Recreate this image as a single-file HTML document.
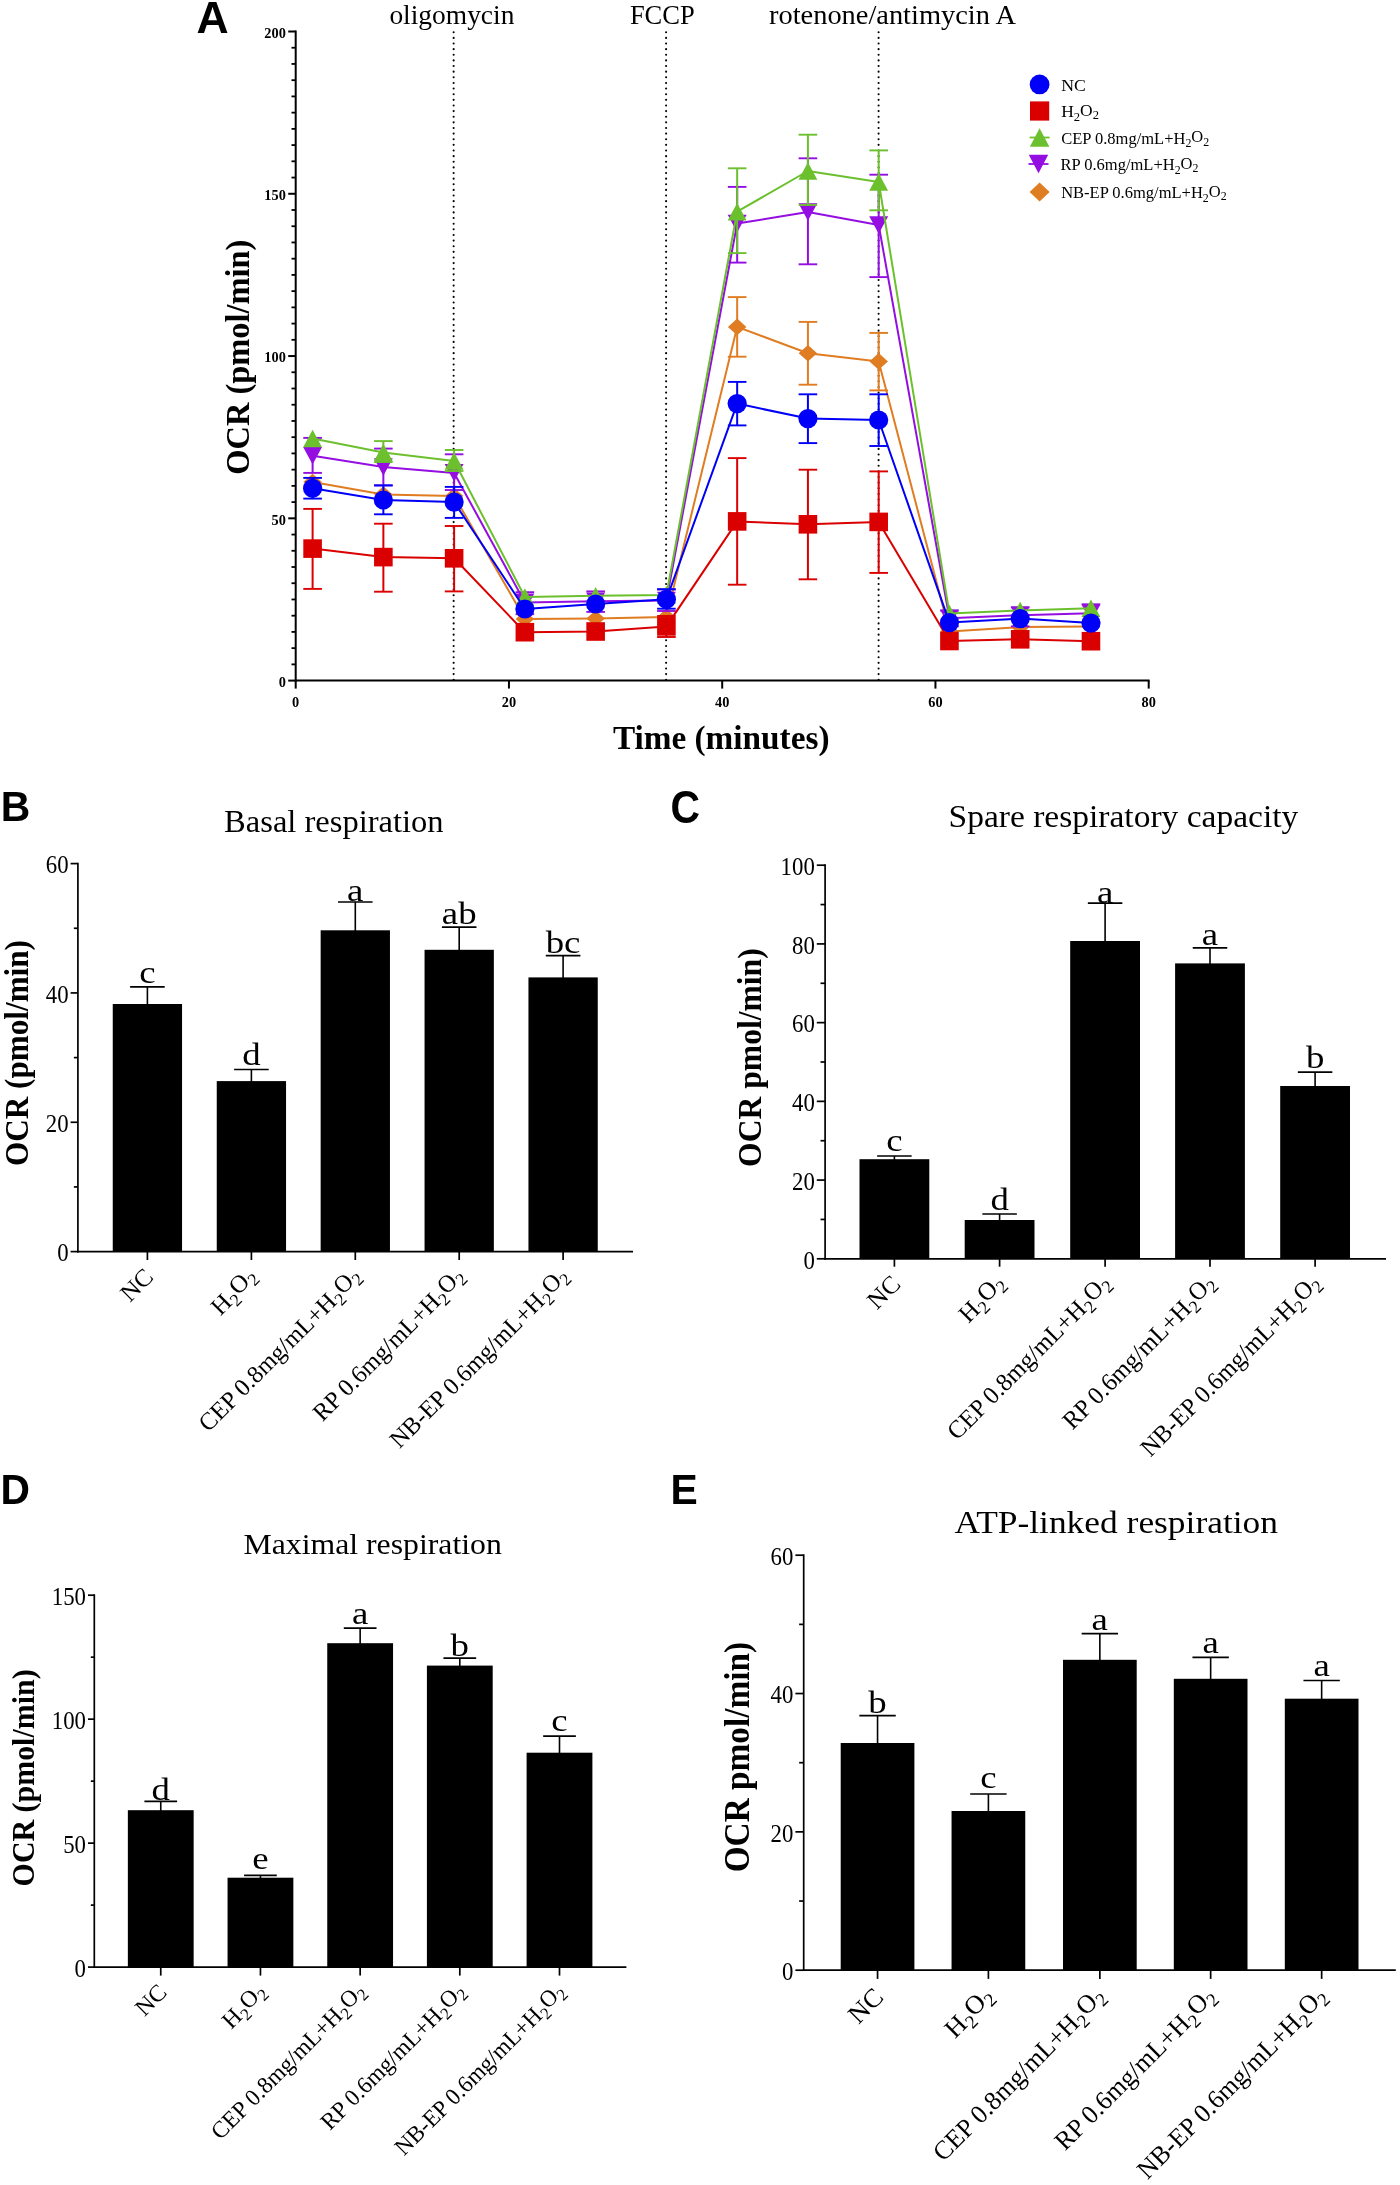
<!DOCTYPE html><html><head><meta charset="utf-8"><style>html,body{margin:0;padding:0;background:#fff;}svg{display:block;will-change:transform;}</style></head><body>
<svg width="1400" height="2185" viewBox="0 0 1400 2185">
<rect x="0" y="0" width="1400" height="2185" fill="#fff"/>
<text x="196.5" y="32.7" font-family="'Liberation Sans', sans-serif" font-size="44.5" font-weight="bold" fill="#000">A</text>
<line x1="295.70" y1="30.60" x2="295.70" y2="681.50" stroke="#000" stroke-width="2.0"/>
<line x1="294.80" y1="680.60" x2="1149.60" y2="680.60" stroke="#000" stroke-width="2.0"/>
<line x1="288.20" y1="680.60" x2="295.70" y2="680.60" stroke="#000" stroke-width="2.0"/>
<line x1="291.50" y1="664.37" x2="295.70" y2="664.37" stroke="#000" stroke-width="1.8"/>
<line x1="291.50" y1="648.14" x2="295.70" y2="648.14" stroke="#000" stroke-width="1.8"/>
<line x1="291.50" y1="631.92" x2="295.70" y2="631.92" stroke="#000" stroke-width="1.8"/>
<line x1="291.50" y1="615.69" x2="295.70" y2="615.69" stroke="#000" stroke-width="1.8"/>
<line x1="291.50" y1="599.46" x2="295.70" y2="599.46" stroke="#000" stroke-width="1.8"/>
<line x1="291.50" y1="583.24" x2="295.70" y2="583.24" stroke="#000" stroke-width="1.8"/>
<line x1="291.50" y1="567.01" x2="295.70" y2="567.01" stroke="#000" stroke-width="1.8"/>
<line x1="291.50" y1="550.78" x2="295.70" y2="550.78" stroke="#000" stroke-width="1.8"/>
<line x1="291.50" y1="534.55" x2="295.70" y2="534.55" stroke="#000" stroke-width="1.8"/>
<line x1="288.20" y1="518.33" x2="295.70" y2="518.33" stroke="#000" stroke-width="2.0"/>
<line x1="291.50" y1="502.10" x2="295.70" y2="502.10" stroke="#000" stroke-width="1.8"/>
<line x1="291.50" y1="485.87" x2="295.70" y2="485.87" stroke="#000" stroke-width="1.8"/>
<line x1="291.50" y1="469.64" x2="295.70" y2="469.64" stroke="#000" stroke-width="1.8"/>
<line x1="291.50" y1="453.41" x2="295.70" y2="453.41" stroke="#000" stroke-width="1.8"/>
<line x1="291.50" y1="437.19" x2="295.70" y2="437.19" stroke="#000" stroke-width="1.8"/>
<line x1="291.50" y1="420.96" x2="295.70" y2="420.96" stroke="#000" stroke-width="1.8"/>
<line x1="291.50" y1="404.73" x2="295.70" y2="404.73" stroke="#000" stroke-width="1.8"/>
<line x1="291.50" y1="388.50" x2="295.70" y2="388.50" stroke="#000" stroke-width="1.8"/>
<line x1="291.50" y1="372.28" x2="295.70" y2="372.28" stroke="#000" stroke-width="1.8"/>
<line x1="288.20" y1="356.05" x2="295.70" y2="356.05" stroke="#000" stroke-width="2.0"/>
<line x1="291.50" y1="339.82" x2="295.70" y2="339.82" stroke="#000" stroke-width="1.8"/>
<line x1="291.50" y1="323.59" x2="295.70" y2="323.59" stroke="#000" stroke-width="1.8"/>
<line x1="291.50" y1="307.37" x2="295.70" y2="307.37" stroke="#000" stroke-width="1.8"/>
<line x1="291.50" y1="291.14" x2="295.70" y2="291.14" stroke="#000" stroke-width="1.8"/>
<line x1="291.50" y1="274.91" x2="295.70" y2="274.91" stroke="#000" stroke-width="1.8"/>
<line x1="291.50" y1="258.69" x2="295.70" y2="258.69" stroke="#000" stroke-width="1.8"/>
<line x1="291.50" y1="242.46" x2="295.70" y2="242.46" stroke="#000" stroke-width="1.8"/>
<line x1="291.50" y1="226.23" x2="295.70" y2="226.23" stroke="#000" stroke-width="1.8"/>
<line x1="291.50" y1="210.00" x2="295.70" y2="210.00" stroke="#000" stroke-width="1.8"/>
<line x1="288.20" y1="193.77" x2="295.70" y2="193.77" stroke="#000" stroke-width="2.0"/>
<line x1="291.50" y1="177.55" x2="295.70" y2="177.55" stroke="#000" stroke-width="1.8"/>
<line x1="291.50" y1="161.32" x2="295.70" y2="161.32" stroke="#000" stroke-width="1.8"/>
<line x1="291.50" y1="145.09" x2="295.70" y2="145.09" stroke="#000" stroke-width="1.8"/>
<line x1="291.50" y1="128.87" x2="295.70" y2="128.87" stroke="#000" stroke-width="1.8"/>
<line x1="291.50" y1="112.64" x2="295.70" y2="112.64" stroke="#000" stroke-width="1.8"/>
<line x1="291.50" y1="96.41" x2="295.70" y2="96.41" stroke="#000" stroke-width="1.8"/>
<line x1="291.50" y1="80.18" x2="295.70" y2="80.18" stroke="#000" stroke-width="1.8"/>
<line x1="291.50" y1="63.95" x2="295.70" y2="63.95" stroke="#000" stroke-width="1.8"/>
<line x1="291.50" y1="47.73" x2="295.70" y2="47.73" stroke="#000" stroke-width="1.8"/>
<line x1="288.20" y1="31.50" x2="295.70" y2="31.50" stroke="#000" stroke-width="2.0"/>
<text x="285.8" y="687.0" font-family="'Liberation Serif', serif" font-size="14.3" text-anchor="end" font-weight="bold" fill="#000">0</text>
<text x="285.8" y="524.7" font-family="'Liberation Serif', serif" font-size="14.3" text-anchor="end" font-weight="bold" fill="#000">50</text>
<text x="285.8" y="362.4" font-family="'Liberation Serif', serif" font-size="14.3" text-anchor="end" font-weight="bold" fill="#000">100</text>
<text x="285.8" y="200.2" font-family="'Liberation Serif', serif" font-size="14.3" text-anchor="end" font-weight="bold" fill="#000">150</text>
<text x="285.8" y="37.9" font-family="'Liberation Serif', serif" font-size="14.3" text-anchor="end" font-weight="bold" fill="#000">200</text>
<line x1="295.70" y1="680.60" x2="295.70" y2="688.60" stroke="#000" stroke-width="2.0"/>
<text x="295.7" y="707.2" font-family="'Liberation Serif', serif" font-size="14.3" text-anchor="middle" font-weight="bold" fill="#000">0</text>
<line x1="508.95" y1="680.60" x2="508.95" y2="688.60" stroke="#000" stroke-width="2.0"/>
<text x="508.9" y="707.2" font-family="'Liberation Serif', serif" font-size="14.3" text-anchor="middle" font-weight="bold" fill="#000">20</text>
<line x1="722.20" y1="680.60" x2="722.20" y2="688.60" stroke="#000" stroke-width="2.0"/>
<text x="722.2" y="707.2" font-family="'Liberation Serif', serif" font-size="14.3" text-anchor="middle" font-weight="bold" fill="#000">40</text>
<line x1="935.45" y1="680.60" x2="935.45" y2="688.60" stroke="#000" stroke-width="2.0"/>
<text x="935.5" y="707.2" font-family="'Liberation Serif', serif" font-size="14.3" text-anchor="middle" font-weight="bold" fill="#000">60</text>
<line x1="1148.70" y1="680.60" x2="1148.70" y2="688.60" stroke="#000" stroke-width="2.0"/>
<text x="1148.7" y="707.2" font-family="'Liberation Serif', serif" font-size="14.3" text-anchor="middle" font-weight="bold" fill="#000">80</text>
<line x1="453.65" y1="32.26" x2="453.65" y2="680.60" stroke="#000" stroke-width="2.1" stroke-dasharray="0.01,5.62" stroke-linecap="round"/>
<line x1="666.10" y1="32.26" x2="666.10" y2="680.60" stroke="#000" stroke-width="2.1" stroke-dasharray="0.01,5.62" stroke-linecap="round"/>
<line x1="878.60" y1="32.26" x2="878.60" y2="680.60" stroke="#000" stroke-width="2.1" stroke-dasharray="0.01,5.62" stroke-linecap="round"/>
<text x="389.4" y="23.6" font-family="'Liberation Serif', serif" font-size="26.5" textLength="125" lengthAdjust="spacingAndGlyphs" fill="#000">oligomycin</text>
<text x="629.9" y="23.6" font-family="'Liberation Serif', serif" font-size="26.5" textLength="64.8" lengthAdjust="spacingAndGlyphs" fill="#000">FCCP</text>
<text x="769.0" y="23.6" font-family="'Liberation Serif', serif" font-size="26.5" textLength="247" lengthAdjust="spacingAndGlyphs" fill="#000">rotenone/antimycin A</text>
<text x="612.9" y="748.9" font-family="'Liberation Serif', serif" font-size="33" font-weight="bold" textLength="216.6" lengthAdjust="spacingAndGlyphs" fill="#000">Time (minutes)</text>
<text x="0.0" y="0.0" font-family="'Liberation Serif', serif" font-size="33" font-weight="bold" textLength="235" lengthAdjust="spacingAndGlyphs" transform="translate(248.6,474.7) rotate(-90)" fill="#000">OCR (pmol/min)</text>
<line x1="737.16" y1="297.10" x2="737.16" y2="356.70" stroke="#e07c22" stroke-width="2.0"/>
<line x1="727.86" y1="297.10" x2="746.46" y2="297.10" stroke="#e07c22" stroke-width="1.9"/>
<line x1="727.86" y1="356.70" x2="746.46" y2="356.70" stroke="#e07c22" stroke-width="1.9"/>
<line x1="807.92" y1="321.90" x2="807.92" y2="384.70" stroke="#e07c22" stroke-width="2.0"/>
<line x1="798.62" y1="321.90" x2="817.22" y2="321.90" stroke="#e07c22" stroke-width="1.9"/>
<line x1="798.62" y1="384.70" x2="817.22" y2="384.70" stroke="#e07c22" stroke-width="1.9"/>
<line x1="878.68" y1="332.90" x2="878.68" y2="390.40" stroke="#e07c22" stroke-width="2.0"/>
<line x1="869.38" y1="332.90" x2="887.98" y2="332.90" stroke="#e07c22" stroke-width="1.9"/>
<line x1="869.38" y1="390.40" x2="887.98" y2="390.40" stroke="#e07c22" stroke-width="1.9"/>
<polyline points="312.60,482.00 383.36,494.50 454.12,496.00 524.88,618.90 595.64,618.50 666.40,616.90 737.16,326.90 807.92,353.30 878.68,361.40 949.44,631.40 1020.20,627.10 1090.96,626.40" fill="none" stroke="#e07c22" stroke-width="2.0" stroke-linejoin="round"/>
<polygon points="312.60,473.70 321.85,482.00 312.60,490.30 303.35,482.00" fill="#e07c22"/>
<polygon points="383.36,486.20 392.61,494.50 383.36,502.80 374.11,494.50" fill="#e07c22"/>
<polygon points="454.12,487.70 463.37,496.00 454.12,504.30 444.87,496.00" fill="#e07c22"/>
<polygon points="524.88,610.60 534.13,618.90 524.88,627.20 515.63,618.90" fill="#e07c22"/>
<polygon points="595.64,610.20 604.89,618.50 595.64,626.80 586.39,618.50" fill="#e07c22"/>
<polygon points="666.40,608.60 675.65,616.90 666.40,625.20 657.15,616.90" fill="#e07c22"/>
<polygon points="737.16,318.60 746.41,326.90 737.16,335.20 727.91,326.90" fill="#e07c22"/>
<polygon points="807.92,345.00 817.17,353.30 807.92,361.60 798.67,353.30" fill="#e07c22"/>
<polygon points="878.68,353.10 887.93,361.40 878.68,369.70 869.43,361.40" fill="#e07c22"/>
<polygon points="949.44,623.10 958.69,631.40 949.44,639.70 940.19,631.40" fill="#e07c22"/>
<polygon points="1020.20,618.80 1029.45,627.10 1020.20,635.40 1010.95,627.10" fill="#e07c22"/>
<polygon points="1090.96,618.10 1100.21,626.40 1090.96,634.70 1081.71,626.40" fill="#e07c22"/>
<line x1="312.60" y1="437.90" x2="312.60" y2="472.90" stroke="#940ee2" stroke-width="2.0"/>
<line x1="303.30" y1="437.90" x2="321.90" y2="437.90" stroke="#940ee2" stroke-width="1.9"/>
<line x1="303.30" y1="472.90" x2="321.90" y2="472.90" stroke="#940ee2" stroke-width="1.9"/>
<line x1="383.36" y1="448.60" x2="383.36" y2="485.40" stroke="#940ee2" stroke-width="2.0"/>
<line x1="374.06" y1="448.60" x2="392.66" y2="448.60" stroke="#940ee2" stroke-width="1.9"/>
<line x1="374.06" y1="485.40" x2="392.66" y2="485.40" stroke="#940ee2" stroke-width="1.9"/>
<line x1="454.12" y1="454.30" x2="454.12" y2="490.00" stroke="#940ee2" stroke-width="2.0"/>
<line x1="444.82" y1="454.30" x2="463.42" y2="454.30" stroke="#940ee2" stroke-width="1.9"/>
<line x1="444.82" y1="490.00" x2="463.42" y2="490.00" stroke="#940ee2" stroke-width="1.9"/>
<line x1="737.16" y1="186.90" x2="737.16" y2="262.60" stroke="#940ee2" stroke-width="2.0"/>
<line x1="727.86" y1="186.90" x2="746.46" y2="186.90" stroke="#940ee2" stroke-width="1.9"/>
<line x1="727.86" y1="262.60" x2="746.46" y2="262.60" stroke="#940ee2" stroke-width="1.9"/>
<line x1="807.92" y1="158.30" x2="807.92" y2="264.30" stroke="#940ee2" stroke-width="2.0"/>
<line x1="798.62" y1="158.30" x2="817.22" y2="158.30" stroke="#940ee2" stroke-width="1.9"/>
<line x1="798.62" y1="264.30" x2="817.22" y2="264.30" stroke="#940ee2" stroke-width="1.9"/>
<line x1="878.68" y1="174.70" x2="878.68" y2="277.10" stroke="#940ee2" stroke-width="2.0"/>
<line x1="869.38" y1="174.70" x2="887.98" y2="174.70" stroke="#940ee2" stroke-width="1.9"/>
<line x1="869.38" y1="277.10" x2="887.98" y2="277.10" stroke="#940ee2" stroke-width="1.9"/>
<line x1="524.88" y1="592.20" x2="524.88" y2="614.20" stroke="#940ee2" stroke-width="2.0"/>
<line x1="515.58" y1="592.20" x2="534.18" y2="592.20" stroke="#940ee2" stroke-width="1.9"/>
<line x1="515.58" y1="614.20" x2="534.18" y2="614.20" stroke="#940ee2" stroke-width="1.9"/>
<line x1="595.64" y1="591.40" x2="595.64" y2="611.90" stroke="#940ee2" stroke-width="2.0"/>
<line x1="586.34" y1="591.40" x2="604.94" y2="591.40" stroke="#940ee2" stroke-width="1.9"/>
<line x1="586.34" y1="611.90" x2="604.94" y2="611.90" stroke="#940ee2" stroke-width="1.9"/>
<line x1="666.40" y1="589.50" x2="666.40" y2="611.00" stroke="#940ee2" stroke-width="2.0"/>
<line x1="657.10" y1="589.50" x2="675.70" y2="589.50" stroke="#940ee2" stroke-width="1.9"/>
<line x1="657.10" y1="611.00" x2="675.70" y2="611.00" stroke="#940ee2" stroke-width="1.9"/>
<line x1="949.44" y1="610.70" x2="949.44" y2="626.30" stroke="#940ee2" stroke-width="2.0"/>
<line x1="940.14" y1="610.70" x2="958.74" y2="610.70" stroke="#940ee2" stroke-width="1.9"/>
<line x1="940.14" y1="626.30" x2="958.74" y2="626.30" stroke="#940ee2" stroke-width="1.9"/>
<line x1="1020.20" y1="607.40" x2="1020.20" y2="626.40" stroke="#940ee2" stroke-width="2.0"/>
<line x1="1010.90" y1="607.40" x2="1029.50" y2="607.40" stroke="#940ee2" stroke-width="1.9"/>
<line x1="1010.90" y1="626.40" x2="1029.50" y2="626.40" stroke="#940ee2" stroke-width="1.9"/>
<line x1="1090.96" y1="604.30" x2="1090.96" y2="622.00" stroke="#940ee2" stroke-width="2.0"/>
<line x1="1081.66" y1="604.30" x2="1100.26" y2="604.30" stroke="#940ee2" stroke-width="1.9"/>
<line x1="1081.66" y1="622.00" x2="1100.26" y2="622.00" stroke="#940ee2" stroke-width="1.9"/>
<polyline points="312.60,455.70 383.36,467.00 454.12,472.90 524.88,602.40 595.64,601.20 666.40,600.50 737.16,223.60 807.92,212.00 878.68,225.00 949.44,618.30 1020.20,615.20 1090.96,613.30" fill="none" stroke="#940ee2" stroke-width="2.0" stroke-linejoin="round"/>
<polygon points="312.60,464.50 322.05,446.90 303.15,446.90" fill="#940ee2"/>
<polygon points="383.36,475.80 392.81,458.20 373.91,458.20" fill="#940ee2"/>
<polygon points="454.12,481.70 463.57,464.10 444.67,464.10" fill="#940ee2"/>
<polygon points="524.88,611.20 534.33,593.60 515.43,593.60" fill="#940ee2"/>
<polygon points="595.64,610.00 605.09,592.40 586.19,592.40" fill="#940ee2"/>
<polygon points="666.40,609.30 675.85,591.70 656.95,591.70" fill="#940ee2"/>
<polygon points="737.16,232.40 746.61,214.80 727.71,214.80" fill="#940ee2"/>
<polygon points="807.92,220.80 817.37,203.20 798.47,203.20" fill="#940ee2"/>
<polygon points="878.68,233.80 888.13,216.20 869.23,216.20" fill="#940ee2"/>
<polygon points="949.44,627.10 958.89,609.50 939.99,609.50" fill="#940ee2"/>
<polygon points="1020.20,624.00 1029.65,606.40 1010.75,606.40" fill="#940ee2"/>
<polygon points="1090.96,622.10 1100.41,604.50 1081.51,604.50" fill="#940ee2"/>
<line x1="383.36" y1="441.10" x2="383.36" y2="462.00" stroke="#6cc02e" stroke-width="2.0"/>
<line x1="374.06" y1="441.10" x2="392.66" y2="441.10" stroke="#6cc02e" stroke-width="1.9"/>
<line x1="374.06" y1="462.00" x2="392.66" y2="462.00" stroke="#6cc02e" stroke-width="1.9"/>
<line x1="454.12" y1="450.00" x2="454.12" y2="471.00" stroke="#6cc02e" stroke-width="2.0"/>
<line x1="444.82" y1="450.00" x2="463.42" y2="450.00" stroke="#6cc02e" stroke-width="1.9"/>
<line x1="444.82" y1="471.00" x2="463.42" y2="471.00" stroke="#6cc02e" stroke-width="1.9"/>
<line x1="737.16" y1="168.30" x2="737.16" y2="253.10" stroke="#6cc02e" stroke-width="2.0"/>
<line x1="727.86" y1="168.30" x2="746.46" y2="168.30" stroke="#6cc02e" stroke-width="1.9"/>
<line x1="727.86" y1="253.10" x2="746.46" y2="253.10" stroke="#6cc02e" stroke-width="1.9"/>
<line x1="807.92" y1="134.70" x2="807.92" y2="205.00" stroke="#6cc02e" stroke-width="2.0"/>
<line x1="798.62" y1="134.70" x2="817.22" y2="134.70" stroke="#6cc02e" stroke-width="1.9"/>
<line x1="798.62" y1="205.00" x2="817.22" y2="205.00" stroke="#6cc02e" stroke-width="1.9"/>
<line x1="878.68" y1="150.40" x2="878.68" y2="210.30" stroke="#6cc02e" stroke-width="2.0"/>
<line x1="869.38" y1="150.40" x2="887.98" y2="150.40" stroke="#6cc02e" stroke-width="1.9"/>
<line x1="869.38" y1="210.30" x2="887.98" y2="210.30" stroke="#6cc02e" stroke-width="1.9"/>
<polyline points="312.60,438.50 383.36,452.50 454.12,461.00 524.88,597.00 595.64,595.80 666.40,594.90 737.16,211.70 807.92,171.00 878.68,182.00 949.44,613.50 1020.20,610.50 1090.96,608.20" fill="none" stroke="#6cc02e" stroke-width="2.0" stroke-linejoin="round"/>
<polygon points="312.60,429.70 322.05,447.30 303.15,447.30" fill="#6cc02e"/>
<polygon points="383.36,443.70 392.81,461.30 373.91,461.30" fill="#6cc02e"/>
<polygon points="454.12,452.20 463.57,469.80 444.67,469.80" fill="#6cc02e"/>
<polygon points="524.88,588.20 534.33,605.80 515.43,605.80" fill="#6cc02e"/>
<polygon points="595.64,587.00 605.09,604.60 586.19,604.60" fill="#6cc02e"/>
<polygon points="666.40,586.10 675.85,603.70 656.95,603.70" fill="#6cc02e"/>
<polygon points="737.16,202.90 746.61,220.50 727.71,220.50" fill="#6cc02e"/>
<polygon points="807.92,162.20 817.37,179.80 798.47,179.80" fill="#6cc02e"/>
<polygon points="878.68,173.20 888.13,190.80 869.23,190.80" fill="#6cc02e"/>
<polygon points="949.44,604.70 958.89,622.30 939.99,622.30" fill="#6cc02e"/>
<polygon points="1020.20,601.70 1029.65,619.30 1010.75,619.30" fill="#6cc02e"/>
<polygon points="1090.96,599.40 1100.41,617.00 1081.51,617.00" fill="#6cc02e"/>
<line x1="312.60" y1="508.90" x2="312.60" y2="588.90" stroke="#da0000" stroke-width="2.0"/>
<line x1="303.30" y1="508.90" x2="321.90" y2="508.90" stroke="#da0000" stroke-width="1.9"/>
<line x1="303.30" y1="588.90" x2="321.90" y2="588.90" stroke="#da0000" stroke-width="1.9"/>
<line x1="383.36" y1="523.70" x2="383.36" y2="591.70" stroke="#da0000" stroke-width="2.0"/>
<line x1="374.06" y1="523.70" x2="392.66" y2="523.70" stroke="#da0000" stroke-width="1.9"/>
<line x1="374.06" y1="591.70" x2="392.66" y2="591.70" stroke="#da0000" stroke-width="1.9"/>
<line x1="454.12" y1="526.00" x2="454.12" y2="591.40" stroke="#da0000" stroke-width="2.0"/>
<line x1="444.82" y1="526.00" x2="463.42" y2="526.00" stroke="#da0000" stroke-width="1.9"/>
<line x1="444.82" y1="591.40" x2="463.42" y2="591.40" stroke="#da0000" stroke-width="1.9"/>
<line x1="737.16" y1="458.10" x2="737.16" y2="584.70" stroke="#da0000" stroke-width="2.0"/>
<line x1="727.86" y1="458.10" x2="746.46" y2="458.10" stroke="#da0000" stroke-width="1.9"/>
<line x1="727.86" y1="584.70" x2="746.46" y2="584.70" stroke="#da0000" stroke-width="1.9"/>
<line x1="807.92" y1="469.70" x2="807.92" y2="579.30" stroke="#da0000" stroke-width="2.0"/>
<line x1="798.62" y1="469.70" x2="817.22" y2="469.70" stroke="#da0000" stroke-width="1.9"/>
<line x1="798.62" y1="579.30" x2="817.22" y2="579.30" stroke="#da0000" stroke-width="1.9"/>
<line x1="878.68" y1="471.40" x2="878.68" y2="572.90" stroke="#da0000" stroke-width="2.0"/>
<line x1="869.38" y1="471.40" x2="887.98" y2="471.40" stroke="#da0000" stroke-width="1.9"/>
<line x1="869.38" y1="572.90" x2="887.98" y2="572.90" stroke="#da0000" stroke-width="1.9"/>
<line x1="666.40" y1="616.00" x2="666.40" y2="637.00" stroke="#da0000" stroke-width="2.0"/>
<line x1="657.10" y1="616.00" x2="675.70" y2="616.00" stroke="#da0000" stroke-width="1.9"/>
<line x1="657.10" y1="637.00" x2="675.70" y2="637.00" stroke="#da0000" stroke-width="1.9"/>
<polyline points="312.60,548.60 383.36,557.10 454.12,558.30 524.88,632.20 595.64,631.50 666.40,626.40 737.16,521.40 807.92,524.30 878.68,521.90 949.44,641.00 1020.20,639.30 1090.96,641.20" fill="none" stroke="#da0000" stroke-width="2.0" stroke-linejoin="round"/>
<rect x="303.30" y="539.30" width="18.60" height="18.60" fill="#da0000"/>
<rect x="374.06" y="547.80" width="18.60" height="18.60" fill="#da0000"/>
<rect x="444.82" y="549.00" width="18.60" height="18.60" fill="#da0000"/>
<rect x="515.58" y="622.90" width="18.60" height="18.60" fill="#da0000"/>
<rect x="586.34" y="622.20" width="18.60" height="18.60" fill="#da0000"/>
<rect x="657.10" y="617.10" width="18.60" height="18.60" fill="#da0000"/>
<rect x="727.86" y="512.10" width="18.60" height="18.60" fill="#da0000"/>
<rect x="798.62" y="515.00" width="18.60" height="18.60" fill="#da0000"/>
<rect x="869.38" y="512.60" width="18.60" height="18.60" fill="#da0000"/>
<rect x="940.14" y="631.70" width="18.60" height="18.60" fill="#da0000"/>
<rect x="1010.90" y="630.00" width="18.60" height="18.60" fill="#da0000"/>
<rect x="1081.66" y="631.90" width="18.60" height="18.60" fill="#da0000"/>
<line x1="312.60" y1="477.90" x2="312.60" y2="498.60" stroke="#0000f8" stroke-width="2.0"/>
<line x1="303.30" y1="477.90" x2="321.90" y2="477.90" stroke="#0000f8" stroke-width="1.9"/>
<line x1="303.30" y1="498.60" x2="321.90" y2="498.60" stroke="#0000f8" stroke-width="1.9"/>
<line x1="383.36" y1="485.40" x2="383.36" y2="514.30" stroke="#0000f8" stroke-width="2.0"/>
<line x1="374.06" y1="485.40" x2="392.66" y2="485.40" stroke="#0000f8" stroke-width="1.9"/>
<line x1="374.06" y1="514.30" x2="392.66" y2="514.30" stroke="#0000f8" stroke-width="1.9"/>
<line x1="454.12" y1="486.90" x2="454.12" y2="517.90" stroke="#0000f8" stroke-width="2.0"/>
<line x1="444.82" y1="486.90" x2="463.42" y2="486.90" stroke="#0000f8" stroke-width="1.9"/>
<line x1="444.82" y1="517.90" x2="463.42" y2="517.90" stroke="#0000f8" stroke-width="1.9"/>
<line x1="737.16" y1="381.90" x2="737.16" y2="425.40" stroke="#0000f8" stroke-width="2.0"/>
<line x1="727.86" y1="381.90" x2="746.46" y2="381.90" stroke="#0000f8" stroke-width="1.9"/>
<line x1="727.86" y1="425.40" x2="746.46" y2="425.40" stroke="#0000f8" stroke-width="1.9"/>
<line x1="807.92" y1="394.30" x2="807.92" y2="443.10" stroke="#0000f8" stroke-width="2.0"/>
<line x1="798.62" y1="394.30" x2="817.22" y2="394.30" stroke="#0000f8" stroke-width="1.9"/>
<line x1="798.62" y1="443.10" x2="817.22" y2="443.10" stroke="#0000f8" stroke-width="1.9"/>
<line x1="878.68" y1="394.30" x2="878.68" y2="446.00" stroke="#0000f8" stroke-width="2.0"/>
<line x1="869.38" y1="394.30" x2="887.98" y2="394.30" stroke="#0000f8" stroke-width="1.9"/>
<line x1="869.38" y1="446.00" x2="887.98" y2="446.00" stroke="#0000f8" stroke-width="1.9"/>
<line x1="666.40" y1="589.20" x2="666.40" y2="608.70" stroke="#0000f8" stroke-width="2.0"/>
<line x1="657.10" y1="589.20" x2="675.70" y2="589.20" stroke="#0000f8" stroke-width="1.9"/>
<line x1="657.10" y1="608.70" x2="675.70" y2="608.70" stroke="#0000f8" stroke-width="1.9"/>
<polyline points="312.60,488.30 383.36,500.00 454.12,502.10 524.88,609.00 595.64,604.00 666.40,599.30 737.16,403.60 807.92,418.60 878.68,420.00 949.44,622.60 1020.20,618.60 1090.96,623.10" fill="none" stroke="#0000f8" stroke-width="2.0" stroke-linejoin="round"/>
<circle cx="312.60" cy="488.30" r="9.60" fill="#0000f8"/>
<circle cx="383.36" cy="500.00" r="9.60" fill="#0000f8"/>
<circle cx="454.12" cy="502.10" r="9.60" fill="#0000f8"/>
<circle cx="524.88" cy="609.00" r="9.60" fill="#0000f8"/>
<circle cx="595.64" cy="604.00" r="9.60" fill="#0000f8"/>
<circle cx="666.40" cy="599.30" r="9.60" fill="#0000f8"/>
<circle cx="737.16" cy="403.60" r="9.60" fill="#0000f8"/>
<circle cx="807.92" cy="418.60" r="9.60" fill="#0000f8"/>
<circle cx="878.68" cy="420.00" r="9.60" fill="#0000f8"/>
<circle cx="949.44" cy="622.60" r="9.60" fill="#0000f8"/>
<circle cx="1020.20" cy="618.60" r="9.60" fill="#0000f8"/>
<circle cx="1090.96" cy="623.10" r="9.60" fill="#0000f8"/>
<circle cx="1039.60" cy="84.40" r="9.90" fill="#0000f8"/>
<text x="1061.2" y="90.6" font-family="'Liberation Serif', serif" font-size="16.5" textLength="24.6" lengthAdjust="spacingAndGlyphs" fill="#000">NC</text>
<rect x="1030.00" y="101.40" width="19.20" height="19.20" fill="#da0000"/>
<text x="1061.2" y="117.2" font-family="'Liberation Serif', serif" font-size="16.5" textLength="37.8" lengthAdjust="spacingAndGlyphs" fill="#000">H<tspan font-size="0.72em" dy="0.28em">2</tspan><tspan dy="-0.28em">O</tspan><tspan font-size="0.72em" dy="0.28em">2</tspan></text>
<polygon points="1039.60,128.20 1049.35,146.80 1029.85,146.80" fill="#6cc02e"/>
<line x1="1029.60" y1="137.50" x2="1049.60" y2="137.50" stroke="#6cc02e" stroke-width="1.8"/>
<text x="1061.2" y="143.7" font-family="'Liberation Serif', serif" font-size="16.5" fill="#000">CEP 0.8mg/mL+H<tspan font-size="0.72em" dy="0.28em">2</tspan><tspan dy="-0.28em">O</tspan><tspan font-size="0.72em" dy="0.28em">2</tspan></text>
<polygon points="1038.50,173.30 1048.25,154.70 1028.75,154.70" fill="#940ee2"/>
<line x1="1028.50" y1="164.00" x2="1048.50" y2="164.00" stroke="#940ee2" stroke-width="1.8"/>
<text x="1060.5" y="170.2" font-family="'Liberation Serif', serif" font-size="16.5" fill="#000">RP 0.6mg/mL+H<tspan font-size="0.72em" dy="0.28em">2</tspan><tspan dy="-0.28em">O</tspan><tspan font-size="0.72em" dy="0.28em">2</tspan></text>
<polygon points="1039.60,182.60 1049.60,192.00 1039.60,201.40 1029.60,192.00" fill="#e07c22"/>
<text x="1061.2" y="198.2" font-family="'Liberation Serif', serif" font-size="16.5" fill="#000">NB-EP 0.6mg/mL+H<tspan font-size="0.72em" dy="0.28em">2</tspan><tspan dy="-0.28em">O</tspan><tspan font-size="0.72em" dy="0.28em">2</tspan></text>
<text x="0.0" y="0.0" font-family="'Liberation Sans', sans-serif" font-size="43" font-weight="bold" transform="translate(0.7,821.2) scale(0.95,1.01)" fill="#000">B</text>
<text x="224.1" y="831.8" font-family="'Liberation Serif', serif" font-size="30.5" textLength="219.5" lengthAdjust="spacingAndGlyphs" fill="#000">Basal respiration</text>
<text x="0.0" y="0.0" font-family="'Liberation Serif', serif" font-size="33" font-weight="bold" textLength="226" lengthAdjust="spacingAndGlyphs" transform="translate(27.5,1166) rotate(-90)" fill="#000">OCR (pmol/min)</text>
<rect x="112.75" y="1004.00" width="69.30" height="247.60" fill="#000"/>
<line x1="147.40" y1="986.80" x2="147.40" y2="1005.00" stroke="#000" stroke-width="1.6"/>
<line x1="130.10" y1="986.80" x2="164.70" y2="986.80" stroke="#000" stroke-width="1.7"/>
<text x="147.4" y="982.5" font-family="'Liberation Serif', serif" font-size="32" text-anchor="middle" textLength="16.339199999999998" lengthAdjust="spacingAndGlyphs" fill="#000">c</text>
<line x1="147.40" y1="1251.60" x2="147.40" y2="1260.00" stroke="#000" stroke-width="1.7"/>
<text x="0.0" y="0.0" font-family="'Liberation Serif', serif" font-size="24.5" text-anchor="end" textLength="35.184" lengthAdjust="spacingAndGlyphs" transform="translate(154.8,1278.2) rotate(-45)" fill="#000">NC</text>
<rect x="216.75" y="1081.10" width="69.30" height="170.50" fill="#000"/>
<line x1="251.40" y1="1069.50" x2="251.40" y2="1082.10" stroke="#000" stroke-width="1.6"/>
<line x1="234.10" y1="1069.50" x2="268.70" y2="1069.50" stroke="#000" stroke-width="1.7"/>
<text x="251.4" y="1064.5" font-family="'Liberation Serif', serif" font-size="32" text-anchor="middle" textLength="18.4" lengthAdjust="spacingAndGlyphs" fill="#000">d</text>
<line x1="251.40" y1="1251.60" x2="251.40" y2="1260.00" stroke="#000" stroke-width="1.7"/>
<text x="0.0" y="0.0" font-family="'Liberation Serif', serif" font-size="24.5" text-anchor="end" textLength="54.242" lengthAdjust="spacingAndGlyphs" transform="translate(258.8,1278.2) rotate(-45)" fill="#000">H<tspan font-size="0.72em" dy="0.28em">2</tspan><tspan dy="-0.28em">O</tspan><tspan font-size="0.72em" dy="0.28em">2</tspan></text>
<rect x="320.65" y="930.30" width="69.30" height="321.30" fill="#000"/>
<line x1="355.30" y1="902.00" x2="355.30" y2="931.30" stroke="#000" stroke-width="1.6"/>
<line x1="338.00" y1="902.00" x2="372.60" y2="902.00" stroke="#000" stroke-width="1.7"/>
<text x="355.3" y="900.8" font-family="'Liberation Serif', serif" font-size="32" text-anchor="middle" textLength="16.339199999999998" lengthAdjust="spacingAndGlyphs" fill="#000">a</text>
<line x1="355.30" y1="1251.60" x2="355.30" y2="1260.00" stroke="#000" stroke-width="1.7"/>
<text x="0.0" y="0.0" font-family="'Liberation Serif', serif" font-size="24.5" text-anchor="end" textLength="218.434" lengthAdjust="spacingAndGlyphs" transform="translate(362.7,1278.2) rotate(-45)" fill="#000">CEP 0.8mg/mL+H<tspan font-size="0.72em" dy="0.28em">2</tspan><tspan dy="-0.28em">O</tspan><tspan font-size="0.72em" dy="0.28em">2</tspan></text>
<rect x="424.55" y="949.80" width="69.30" height="301.80" fill="#000"/>
<line x1="459.20" y1="927.10" x2="459.20" y2="950.80" stroke="#000" stroke-width="1.6"/>
<line x1="441.90" y1="927.10" x2="476.50" y2="927.10" stroke="#000" stroke-width="1.7"/>
<text x="459.2" y="924.0" font-family="'Liberation Serif', serif" font-size="32" text-anchor="middle" textLength="34.7392" lengthAdjust="spacingAndGlyphs" fill="#000">ab</text>
<line x1="459.20" y1="1251.60" x2="459.20" y2="1260.00" stroke="#000" stroke-width="1.7"/>
<text x="0.0" y="0.0" font-family="'Liberation Serif', serif" font-size="24.5" text-anchor="end" textLength="203.774" lengthAdjust="spacingAndGlyphs" transform="translate(466.6,1278.2) rotate(-45)" fill="#000">RP 0.6mg/mL+H<tspan font-size="0.72em" dy="0.28em">2</tspan><tspan dy="-0.28em">O</tspan><tspan font-size="0.72em" dy="0.28em">2</tspan></text>
<rect x="528.45" y="977.40" width="69.30" height="274.20" fill="#000"/>
<line x1="563.10" y1="955.70" x2="563.10" y2="978.40" stroke="#000" stroke-width="1.6"/>
<line x1="545.80" y1="955.70" x2="580.40" y2="955.70" stroke="#000" stroke-width="1.7"/>
<text x="563.1" y="952.9" font-family="'Liberation Serif', serif" font-size="32" text-anchor="middle" textLength="34.7392" lengthAdjust="spacingAndGlyphs" fill="#000">bc</text>
<line x1="563.10" y1="1251.60" x2="563.10" y2="1260.00" stroke="#000" stroke-width="1.7"/>
<text x="0.0" y="0.0" font-family="'Liberation Serif', serif" font-size="24.5" text-anchor="end" textLength="241.89" lengthAdjust="spacingAndGlyphs" transform="translate(570.5,1278.2) rotate(-45)" fill="#000">NB-EP 0.6mg/mL+H<tspan font-size="0.72em" dy="0.28em">2</tspan><tspan dy="-0.28em">O</tspan><tspan font-size="0.72em" dy="0.28em">2</tspan></text>
<line x1="77.90" y1="862.75" x2="77.90" y2="1252.45" stroke="#000" stroke-width="1.7"/>
<line x1="77.05" y1="1251.60" x2="633.00" y2="1251.60" stroke="#000" stroke-width="1.7"/>
<line x1="70.60" y1="1251.60" x2="77.90" y2="1251.60" stroke="#000" stroke-width="1.7"/>
<text x="68.6" y="1261.4" font-family="'Liberation Serif', serif" font-size="25.6" text-anchor="end" textLength="11.4" lengthAdjust="spacingAndGlyphs" fill="#000">0</text>
<line x1="73.89" y1="1186.93" x2="77.90" y2="1186.93" stroke="#000" stroke-width="1.7"/>
<line x1="70.60" y1="1122.27" x2="77.90" y2="1122.27" stroke="#000" stroke-width="1.7"/>
<text x="68.6" y="1132.1" font-family="'Liberation Serif', serif" font-size="25.6" text-anchor="end" textLength="22.8" lengthAdjust="spacingAndGlyphs" fill="#000">20</text>
<line x1="73.89" y1="1057.60" x2="77.90" y2="1057.60" stroke="#000" stroke-width="1.7"/>
<line x1="70.60" y1="992.93" x2="77.90" y2="992.93" stroke="#000" stroke-width="1.7"/>
<text x="68.6" y="1002.7" font-family="'Liberation Serif', serif" font-size="25.6" text-anchor="end" textLength="22.8" lengthAdjust="spacingAndGlyphs" fill="#000">40</text>
<line x1="73.89" y1="928.27" x2="77.90" y2="928.27" stroke="#000" stroke-width="1.7"/>
<line x1="70.60" y1="863.60" x2="77.90" y2="863.60" stroke="#000" stroke-width="1.7"/>
<text x="68.6" y="873.4" font-family="'Liberation Serif', serif" font-size="25.6" text-anchor="end" textLength="22.8" lengthAdjust="spacingAndGlyphs" fill="#000">60</text>
<text x="0.0" y="0.0" font-family="'Liberation Sans', sans-serif" font-size="43" font-weight="bold" transform="translate(670.5,822.5) scale(0.95,1.07)" fill="#000">C</text>
<text x="948.5" y="826.6" font-family="'Liberation Serif', serif" font-size="31" textLength="349.8" lengthAdjust="spacingAndGlyphs" fill="#000">Spare respiratory capacity</text>
<text x="0.0" y="0.0" font-family="'Liberation Serif', serif" font-size="34" font-weight="bold" textLength="218.6" lengthAdjust="spacingAndGlyphs" transform="translate(760.6,1166.9) rotate(-90)" fill="#000">OCR pmol/min)</text>
<rect x="859.50" y="1159.20" width="69.80" height="99.60" fill="#000"/>
<line x1="894.40" y1="1156.00" x2="894.40" y2="1160.20" stroke="#000" stroke-width="1.6"/>
<line x1="877.15" y1="1156.00" x2="911.65" y2="1156.00" stroke="#000" stroke-width="1.7"/>
<text x="894.4" y="1151.0" font-family="'Liberation Serif', serif" font-size="32" text-anchor="middle" textLength="16.339199999999998" lengthAdjust="spacingAndGlyphs" fill="#000">c</text>
<line x1="894.40" y1="1258.80" x2="894.40" y2="1266.70" stroke="#000" stroke-width="1.7"/>
<text x="0.0" y="0.0" font-family="'Liberation Serif', serif" font-size="25.0" text-anchor="end" textLength="35.448" lengthAdjust="spacingAndGlyphs" transform="translate(902.0,1285.4) rotate(-45)" fill="#000">NC</text>
<rect x="964.70" y="1220.00" width="69.80" height="38.80" fill="#000"/>
<line x1="999.60" y1="1214.00" x2="999.60" y2="1221.00" stroke="#000" stroke-width="1.6"/>
<line x1="982.35" y1="1214.00" x2="1016.85" y2="1214.00" stroke="#000" stroke-width="1.7"/>
<text x="999.6" y="1209.5" font-family="'Liberation Serif', serif" font-size="32" text-anchor="middle" textLength="18.4" lengthAdjust="spacingAndGlyphs" fill="#000">d</text>
<line x1="999.60" y1="1258.80" x2="999.60" y2="1266.70" stroke="#000" stroke-width="1.7"/>
<text x="0.0" y="0.0" font-family="'Liberation Serif', serif" font-size="25.0" text-anchor="end" textLength="54.649" lengthAdjust="spacingAndGlyphs" transform="translate(1007.2,1285.4) rotate(-45)" fill="#000">H<tspan font-size="0.72em" dy="0.28em">2</tspan><tspan dy="-0.28em">O</tspan><tspan font-size="0.72em" dy="0.28em">2</tspan></text>
<rect x="1070.20" y="941.00" width="69.80" height="317.80" fill="#000"/>
<line x1="1105.10" y1="903.20" x2="1105.10" y2="942.00" stroke="#000" stroke-width="1.6"/>
<line x1="1087.85" y1="903.20" x2="1122.35" y2="903.20" stroke="#000" stroke-width="1.7"/>
<text x="1105.1" y="902.5" font-family="'Liberation Serif', serif" font-size="32" text-anchor="middle" textLength="16.339199999999998" lengthAdjust="spacingAndGlyphs" fill="#000">a</text>
<line x1="1105.10" y1="1258.80" x2="1105.10" y2="1266.70" stroke="#000" stroke-width="1.7"/>
<text x="0.0" y="0.0" font-family="'Liberation Serif', serif" font-size="25.0" text-anchor="end" textLength="220.073" lengthAdjust="spacingAndGlyphs" transform="translate(1112.7,1285.4) rotate(-45)" fill="#000">CEP 0.8mg/mL+H<tspan font-size="0.72em" dy="0.28em">2</tspan><tspan dy="-0.28em">O</tspan><tspan font-size="0.72em" dy="0.28em">2</tspan></text>
<rect x="1175.10" y="963.40" width="69.80" height="295.40" fill="#000"/>
<line x1="1210.00" y1="947.90" x2="1210.00" y2="964.40" stroke="#000" stroke-width="1.6"/>
<line x1="1192.75" y1="947.90" x2="1227.25" y2="947.90" stroke="#000" stroke-width="1.7"/>
<text x="1210.0" y="944.5" font-family="'Liberation Serif', serif" font-size="32" text-anchor="middle" textLength="16.339199999999998" lengthAdjust="spacingAndGlyphs" fill="#000">a</text>
<line x1="1210.00" y1="1258.80" x2="1210.00" y2="1266.70" stroke="#000" stroke-width="1.7"/>
<text x="0.0" y="0.0" font-family="'Liberation Serif', serif" font-size="25.0" text-anchor="end" textLength="205.30300000000003" lengthAdjust="spacingAndGlyphs" transform="translate(1217.6,1285.4) rotate(-45)" fill="#000">RP 0.6mg/mL+H<tspan font-size="0.72em" dy="0.28em">2</tspan><tspan dy="-0.28em">O</tspan><tspan font-size="0.72em" dy="0.28em">2</tspan></text>
<rect x="1280.20" y="1086.00" width="69.80" height="172.80" fill="#000"/>
<line x1="1315.10" y1="1072.10" x2="1315.10" y2="1087.00" stroke="#000" stroke-width="1.6"/>
<line x1="1297.85" y1="1072.10" x2="1332.35" y2="1072.10" stroke="#000" stroke-width="1.7"/>
<text x="1315.1" y="1068.0" font-family="'Liberation Serif', serif" font-size="32" text-anchor="middle" textLength="18.4" lengthAdjust="spacingAndGlyphs" fill="#000">b</text>
<line x1="1315.10" y1="1258.80" x2="1315.10" y2="1266.70" stroke="#000" stroke-width="1.7"/>
<text x="0.0" y="0.0" font-family="'Liberation Serif', serif" font-size="25.0" text-anchor="end" textLength="243.705" lengthAdjust="spacingAndGlyphs" transform="translate(1322.7,1285.4) rotate(-45)" fill="#000">NB-EP 0.6mg/mL+H<tspan font-size="0.72em" dy="0.28em">2</tspan><tspan dy="-0.28em">O</tspan><tspan font-size="0.72em" dy="0.28em">2</tspan></text>
<line x1="825.10" y1="864.35" x2="825.10" y2="1259.65" stroke="#000" stroke-width="1.7"/>
<line x1="824.25" y1="1258.80" x2="1386.00" y2="1258.80" stroke="#000" stroke-width="1.7"/>
<line x1="816.80" y1="1258.80" x2="825.10" y2="1258.80" stroke="#000" stroke-width="1.7"/>
<text x="814.8" y="1268.6" font-family="'Liberation Serif', serif" font-size="25.6" text-anchor="end" textLength="11.4" lengthAdjust="spacingAndGlyphs" fill="#000">0</text>
<line x1="820.53" y1="1219.44" x2="825.10" y2="1219.44" stroke="#000" stroke-width="1.7"/>
<line x1="816.80" y1="1180.08" x2="825.10" y2="1180.08" stroke="#000" stroke-width="1.7"/>
<text x="814.8" y="1189.9" font-family="'Liberation Serif', serif" font-size="25.6" text-anchor="end" textLength="22.8" lengthAdjust="spacingAndGlyphs" fill="#000">20</text>
<line x1="820.53" y1="1140.72" x2="825.10" y2="1140.72" stroke="#000" stroke-width="1.7"/>
<line x1="816.80" y1="1101.36" x2="825.10" y2="1101.36" stroke="#000" stroke-width="1.7"/>
<text x="814.8" y="1111.2" font-family="'Liberation Serif', serif" font-size="25.6" text-anchor="end" textLength="22.8" lengthAdjust="spacingAndGlyphs" fill="#000">40</text>
<line x1="820.53" y1="1062.00" x2="825.10" y2="1062.00" stroke="#000" stroke-width="1.7"/>
<line x1="816.80" y1="1022.64" x2="825.10" y2="1022.64" stroke="#000" stroke-width="1.7"/>
<text x="814.8" y="1032.4" font-family="'Liberation Serif', serif" font-size="25.6" text-anchor="end" textLength="22.8" lengthAdjust="spacingAndGlyphs" fill="#000">60</text>
<line x1="820.53" y1="983.28" x2="825.10" y2="983.28" stroke="#000" stroke-width="1.7"/>
<line x1="816.80" y1="943.92" x2="825.10" y2="943.92" stroke="#000" stroke-width="1.7"/>
<text x="814.8" y="953.7" font-family="'Liberation Serif', serif" font-size="25.6" text-anchor="end" textLength="22.8" lengthAdjust="spacingAndGlyphs" fill="#000">80</text>
<line x1="820.53" y1="904.56" x2="825.10" y2="904.56" stroke="#000" stroke-width="1.7"/>
<line x1="816.80" y1="865.20" x2="825.10" y2="865.20" stroke="#000" stroke-width="1.7"/>
<text x="814.8" y="875.0" font-family="'Liberation Serif', serif" font-size="25.6" text-anchor="end" textLength="34.2" lengthAdjust="spacingAndGlyphs" fill="#000">100</text>
<text x="0.0" y="0.0" font-family="'Liberation Sans', sans-serif" font-size="43" font-weight="bold" transform="translate(0.4,1504.1) scale(0.95,1.01)" fill="#000">D</text>
<text x="243.5" y="1553.6" font-family="'Liberation Serif', serif" font-size="30" textLength="258.3" lengthAdjust="spacingAndGlyphs" fill="#000">Maximal respiration</text>
<text x="0.0" y="0.0" font-family="'Liberation Serif', serif" font-size="32" font-weight="bold" textLength="217" lengthAdjust="spacingAndGlyphs" transform="translate(34.1,1886.4) rotate(-90)" fill="#000">OCR (pmol/min)</text>
<rect x="127.85" y="1810.20" width="65.80" height="156.90" fill="#000"/>
<line x1="160.75" y1="1801.30" x2="160.75" y2="1811.20" stroke="#000" stroke-width="1.6"/>
<line x1="144.40" y1="1801.30" x2="177.10" y2="1801.30" stroke="#000" stroke-width="1.7"/>
<text x="160.8" y="1799.5" font-family="'Liberation Serif', serif" font-size="32" text-anchor="middle" textLength="18.4" lengthAdjust="spacingAndGlyphs" fill="#000">d</text>
<line x1="160.75" y1="1967.10" x2="160.75" y2="1975.60" stroke="#000" stroke-width="1.7"/>
<text x="0.0" y="0.0" font-family="'Liberation Serif', serif" font-size="23.6" text-anchor="end" textLength="33.552" lengthAdjust="spacingAndGlyphs" transform="translate(168.2,1993.5) rotate(-45)" fill="#000">NC</text>
<rect x="227.55" y="1877.70" width="65.80" height="89.40" fill="#000"/>
<line x1="260.45" y1="1875.40" x2="260.45" y2="1878.70" stroke="#000" stroke-width="1.6"/>
<line x1="244.10" y1="1875.40" x2="276.80" y2="1875.40" stroke="#000" stroke-width="1.7"/>
<text x="260.4" y="1869.0" font-family="'Liberation Serif', serif" font-size="32" text-anchor="middle" textLength="16.339199999999998" lengthAdjust="spacingAndGlyphs" fill="#000">e</text>
<line x1="260.45" y1="1967.10" x2="260.45" y2="1975.60" stroke="#000" stroke-width="1.7"/>
<text x="0.0" y="0.0" font-family="'Liberation Serif', serif" font-size="23.6" text-anchor="end" textLength="51.726" lengthAdjust="spacingAndGlyphs" transform="translate(267.9,1993.5) rotate(-45)" fill="#000">H<tspan font-size="0.72em" dy="0.28em">2</tspan><tspan dy="-0.28em">O</tspan><tspan font-size="0.72em" dy="0.28em">2</tspan></text>
<rect x="327.25" y="1643.20" width="65.80" height="323.90" fill="#000"/>
<line x1="360.15" y1="1628.20" x2="360.15" y2="1644.20" stroke="#000" stroke-width="1.6"/>
<line x1="343.80" y1="1628.20" x2="376.50" y2="1628.20" stroke="#000" stroke-width="1.7"/>
<text x="360.1" y="1624.0" font-family="'Liberation Serif', serif" font-size="32" text-anchor="middle" textLength="16.339199999999998" lengthAdjust="spacingAndGlyphs" fill="#000">a</text>
<line x1="360.15" y1="1967.10" x2="360.15" y2="1975.60" stroke="#000" stroke-width="1.7"/>
<text x="0.0" y="0.0" font-family="'Liberation Serif', serif" font-size="23.6" text-anchor="end" textLength="208.302" lengthAdjust="spacingAndGlyphs" transform="translate(367.6,1993.5) rotate(-45)" fill="#000">CEP 0.8mg/mL+H<tspan font-size="0.72em" dy="0.28em">2</tspan><tspan dy="-0.28em">O</tspan><tspan font-size="0.72em" dy="0.28em">2</tspan></text>
<rect x="426.90" y="1665.60" width="65.80" height="301.50" fill="#000"/>
<line x1="459.80" y1="1658.20" x2="459.80" y2="1666.60" stroke="#000" stroke-width="1.6"/>
<line x1="443.45" y1="1658.20" x2="476.15" y2="1658.20" stroke="#000" stroke-width="1.7"/>
<text x="459.8" y="1655.8" font-family="'Liberation Serif', serif" font-size="32" text-anchor="middle" textLength="18.4" lengthAdjust="spacingAndGlyphs" fill="#000">b</text>
<line x1="459.80" y1="1967.10" x2="459.80" y2="1975.60" stroke="#000" stroke-width="1.7"/>
<text x="0.0" y="0.0" font-family="'Liberation Serif', serif" font-size="23.6" text-anchor="end" textLength="194.32199999999997" lengthAdjust="spacingAndGlyphs" transform="translate(467.3,1993.5) rotate(-45)" fill="#000">RP 0.6mg/mL+H<tspan font-size="0.72em" dy="0.28em">2</tspan><tspan dy="-0.28em">O</tspan><tspan font-size="0.72em" dy="0.28em">2</tspan></text>
<rect x="526.60" y="1752.70" width="65.80" height="214.40" fill="#000"/>
<line x1="559.50" y1="1736.10" x2="559.50" y2="1753.70" stroke="#000" stroke-width="1.6"/>
<line x1="543.15" y1="1736.10" x2="575.85" y2="1736.10" stroke="#000" stroke-width="1.7"/>
<text x="559.5" y="1731.0" font-family="'Liberation Serif', serif" font-size="32" text-anchor="middle" textLength="16.339199999999998" lengthAdjust="spacingAndGlyphs" fill="#000">c</text>
<line x1="559.50" y1="1967.10" x2="559.50" y2="1975.60" stroke="#000" stroke-width="1.7"/>
<text x="0.0" y="0.0" font-family="'Liberation Serif', serif" font-size="23.6" text-anchor="end" textLength="230.67" lengthAdjust="spacingAndGlyphs" transform="translate(567.0,1993.5) rotate(-45)" fill="#000">NB-EP 0.6mg/mL+H<tspan font-size="0.72em" dy="0.28em">2</tspan><tspan dy="-0.28em">O</tspan><tspan font-size="0.72em" dy="0.28em">2</tspan></text>
<line x1="94.30" y1="1594.35" x2="94.30" y2="1967.95" stroke="#000" stroke-width="1.7"/>
<line x1="93.45" y1="1967.10" x2="626.40" y2="1967.10" stroke="#000" stroke-width="1.7"/>
<line x1="88.00" y1="1967.10" x2="94.30" y2="1967.10" stroke="#000" stroke-width="1.7"/>
<text x="86.0" y="1976.9" font-family="'Liberation Serif', serif" font-size="25.6" text-anchor="end" textLength="11.4" lengthAdjust="spacingAndGlyphs" fill="#000">0</text>
<line x1="90.83" y1="1905.12" x2="94.30" y2="1905.12" stroke="#000" stroke-width="1.7"/>
<line x1="88.00" y1="1843.13" x2="94.30" y2="1843.13" stroke="#000" stroke-width="1.7"/>
<text x="86.0" y="1852.9" font-family="'Liberation Serif', serif" font-size="25.6" text-anchor="end" textLength="22.8" lengthAdjust="spacingAndGlyphs" fill="#000">50</text>
<line x1="90.83" y1="1781.15" x2="94.30" y2="1781.15" stroke="#000" stroke-width="1.7"/>
<line x1="88.00" y1="1719.17" x2="94.30" y2="1719.17" stroke="#000" stroke-width="1.7"/>
<text x="86.0" y="1729.0" font-family="'Liberation Serif', serif" font-size="25.6" text-anchor="end" textLength="34.2" lengthAdjust="spacingAndGlyphs" fill="#000">100</text>
<line x1="90.83" y1="1657.18" x2="94.30" y2="1657.18" stroke="#000" stroke-width="1.7"/>
<line x1="88.00" y1="1595.20" x2="94.30" y2="1595.20" stroke="#000" stroke-width="1.7"/>
<text x="86.0" y="1605.0" font-family="'Liberation Serif', serif" font-size="25.6" text-anchor="end" textLength="34.2" lengthAdjust="spacingAndGlyphs" fill="#000">150</text>
<text x="0.0" y="0.0" font-family="'Liberation Sans', sans-serif" font-size="43" font-weight="bold" transform="translate(670.5,1503.7) scale(0.95,1.01)" fill="#000">E</text>
<text x="954.5" y="1532.5" font-family="'Liberation Serif', serif" font-size="31" textLength="323.5" lengthAdjust="spacingAndGlyphs" fill="#000">ATP-linked respiration</text>
<text x="0.0" y="0.0" font-family="'Liberation Serif', serif" font-size="36" font-weight="bold" textLength="230.4" lengthAdjust="spacingAndGlyphs" transform="translate(748.8,1872.3) rotate(-90)" fill="#000">OCR pmol/min)</text>
<rect x="840.70" y="1743.00" width="73.70" height="227.20" fill="#000"/>
<line x1="877.55" y1="1715.70" x2="877.55" y2="1744.00" stroke="#000" stroke-width="1.6"/>
<line x1="859.35" y1="1715.70" x2="895.75" y2="1715.70" stroke="#000" stroke-width="1.7"/>
<text x="877.5" y="1713.4" font-family="'Liberation Serif', serif" font-size="32" text-anchor="middle" textLength="18.4" lengthAdjust="spacingAndGlyphs" fill="#000">b</text>
<line x1="877.55" y1="1970.20" x2="877.55" y2="1978.90" stroke="#000" stroke-width="1.7"/>
<text x="0.0" y="0.0" font-family="'Liberation Serif', serif" font-size="26.2" text-anchor="end" textLength="37.367999999999995" lengthAdjust="spacingAndGlyphs" transform="translate(884.9,1998.5) rotate(-45)" fill="#000">NC</text>
<rect x="951.55" y="1811.00" width="73.70" height="159.20" fill="#000"/>
<line x1="988.40" y1="1794.00" x2="988.40" y2="1812.00" stroke="#000" stroke-width="1.6"/>
<line x1="970.20" y1="1794.00" x2="1006.60" y2="1794.00" stroke="#000" stroke-width="1.7"/>
<text x="988.4" y="1788.3" font-family="'Liberation Serif', serif" font-size="32" text-anchor="middle" textLength="16.339199999999998" lengthAdjust="spacingAndGlyphs" fill="#000">c</text>
<line x1="988.40" y1="1970.20" x2="988.40" y2="1978.90" stroke="#000" stroke-width="1.7"/>
<text x="0.0" y="0.0" font-family="'Liberation Serif', serif" font-size="26.2" text-anchor="end" textLength="57.608999999999995" lengthAdjust="spacingAndGlyphs" transform="translate(995.8,1998.5) rotate(-45)" fill="#000">H<tspan font-size="0.72em" dy="0.28em">2</tspan><tspan dy="-0.28em">O</tspan><tspan font-size="0.72em" dy="0.28em">2</tspan></text>
<rect x="1063.00" y="1659.80" width="73.70" height="310.40" fill="#000"/>
<line x1="1099.85" y1="1633.70" x2="1099.85" y2="1660.80" stroke="#000" stroke-width="1.6"/>
<line x1="1081.65" y1="1633.70" x2="1118.05" y2="1633.70" stroke="#000" stroke-width="1.7"/>
<text x="1099.8" y="1630.0" font-family="'Liberation Serif', serif" font-size="32" text-anchor="middle" textLength="16.339199999999998" lengthAdjust="spacingAndGlyphs" fill="#000">a</text>
<line x1="1099.85" y1="1970.20" x2="1099.85" y2="1978.90" stroke="#000" stroke-width="1.7"/>
<text x="0.0" y="0.0" font-family="'Liberation Serif', serif" font-size="26.2" text-anchor="end" textLength="231.993" lengthAdjust="spacingAndGlyphs" transform="translate(1107.2,1998.5) rotate(-45)" fill="#000">CEP 0.8mg/mL+H<tspan font-size="0.72em" dy="0.28em">2</tspan><tspan dy="-0.28em">O</tspan><tspan font-size="0.72em" dy="0.28em">2</tspan></text>
<rect x="1173.80" y="1678.80" width="73.70" height="291.40" fill="#000"/>
<line x1="1210.65" y1="1657.30" x2="1210.65" y2="1679.80" stroke="#000" stroke-width="1.6"/>
<line x1="1192.45" y1="1657.30" x2="1228.85" y2="1657.30" stroke="#000" stroke-width="1.7"/>
<text x="1210.7" y="1653.0" font-family="'Liberation Serif', serif" font-size="32" text-anchor="middle" textLength="16.339199999999998" lengthAdjust="spacingAndGlyphs" fill="#000">a</text>
<line x1="1210.65" y1="1970.20" x2="1210.65" y2="1978.90" stroke="#000" stroke-width="1.7"/>
<text x="0.0" y="0.0" font-family="'Liberation Serif', serif" font-size="26.2" text-anchor="end" textLength="216.423" lengthAdjust="spacingAndGlyphs" transform="translate(1218.1,1998.5) rotate(-45)" fill="#000">RP 0.6mg/mL+H<tspan font-size="0.72em" dy="0.28em">2</tspan><tspan dy="-0.28em">O</tspan><tspan font-size="0.72em" dy="0.28em">2</tspan></text>
<rect x="1284.80" y="1698.70" width="73.70" height="271.50" fill="#000"/>
<line x1="1321.65" y1="1680.50" x2="1321.65" y2="1699.70" stroke="#000" stroke-width="1.6"/>
<line x1="1303.45" y1="1680.50" x2="1339.85" y2="1680.50" stroke="#000" stroke-width="1.7"/>
<text x="1321.7" y="1675.5" font-family="'Liberation Serif', serif" font-size="32" text-anchor="middle" textLength="16.339199999999998" lengthAdjust="spacingAndGlyphs" fill="#000">a</text>
<line x1="1321.65" y1="1970.20" x2="1321.65" y2="1978.90" stroke="#000" stroke-width="1.7"/>
<text x="0.0" y="0.0" font-family="'Liberation Serif', serif" font-size="26.2" text-anchor="end" textLength="256.905" lengthAdjust="spacingAndGlyphs" transform="translate(1329.1,1998.5) rotate(-45)" fill="#000">NB-EP 0.6mg/mL+H<tspan font-size="0.72em" dy="0.28em">2</tspan><tspan dy="-0.28em">O</tspan><tspan font-size="0.72em" dy="0.28em">2</tspan></text>
<line x1="803.70" y1="1554.35" x2="803.70" y2="1971.05" stroke="#000" stroke-width="1.7"/>
<line x1="802.85" y1="1970.20" x2="1395.80" y2="1970.20" stroke="#000" stroke-width="1.7"/>
<line x1="795.40" y1="1970.20" x2="803.70" y2="1970.20" stroke="#000" stroke-width="1.7"/>
<text x="793.4" y="1980.0" font-family="'Liberation Serif', serif" font-size="25.6" text-anchor="end" textLength="11.4" lengthAdjust="spacingAndGlyphs" fill="#000">0</text>
<line x1="799.13" y1="1901.03" x2="803.70" y2="1901.03" stroke="#000" stroke-width="1.7"/>
<line x1="795.40" y1="1831.87" x2="803.70" y2="1831.87" stroke="#000" stroke-width="1.7"/>
<text x="793.4" y="1841.7" font-family="'Liberation Serif', serif" font-size="25.6" text-anchor="end" textLength="22.8" lengthAdjust="spacingAndGlyphs" fill="#000">20</text>
<line x1="799.13" y1="1762.70" x2="803.70" y2="1762.70" stroke="#000" stroke-width="1.7"/>
<line x1="795.40" y1="1693.53" x2="803.70" y2="1693.53" stroke="#000" stroke-width="1.7"/>
<text x="793.4" y="1703.3" font-family="'Liberation Serif', serif" font-size="25.6" text-anchor="end" textLength="22.8" lengthAdjust="spacingAndGlyphs" fill="#000">40</text>
<line x1="799.13" y1="1624.37" x2="803.70" y2="1624.37" stroke="#000" stroke-width="1.7"/>
<line x1="795.40" y1="1555.20" x2="803.70" y2="1555.20" stroke="#000" stroke-width="1.7"/>
<text x="793.4" y="1565.0" font-family="'Liberation Serif', serif" font-size="25.6" text-anchor="end" textLength="22.8" lengthAdjust="spacingAndGlyphs" fill="#000">60</text>
</svg></body></html>
